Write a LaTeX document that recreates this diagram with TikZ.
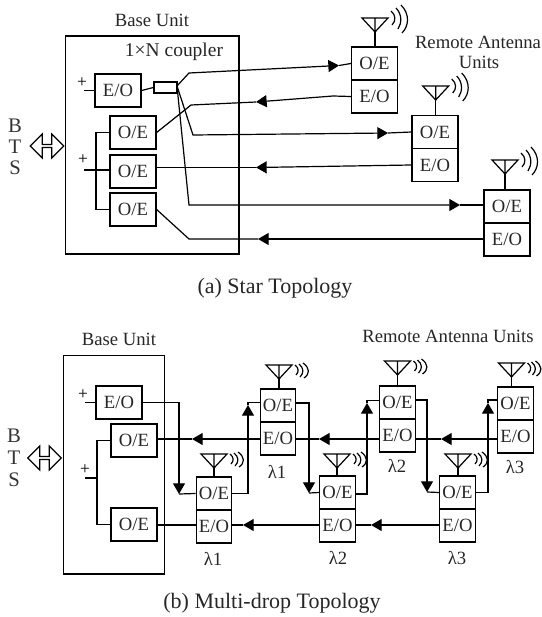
\documentclass[tikz,border=0pt]{standalone}
\usepackage{fontspec}
\setmainfont{Liberation Serif}
\usetikzlibrary{arrows.meta,shapes.arrows}
\tikzset{
  x=0.75pt,y=-0.75pt,
  wire/.style={line width=0.9pt,line join=miter},
  tipped/.style={wire,-{Triangle[length=8pt,width=9pt]}},
  unitbox/.style={draw,line width=0.95pt,inner sep=0pt,text=black!85,font=\fontsize{14}{15}\selectfont},
  bigbox/.style={unitbox,minimum width=34.5pt,minimum height=24.75pt},
  rabox/.style={unitbox,minimum width=26.5pt,minimum height=24.75pt},
  frame/.style={draw,line width=0.9pt,inner sep=0pt},
  txt/.style={inner sep=0pt,font=\fontsize{14}{16}\selectfont,text=black!85},
  captext/.style={inner sep=0pt,font=\fontsize{16.5}{18}\selectfont,text=black!85},
  letter/.style={inner sep=0pt,font=\fontsize{15.5}{16}\selectfont,text=black!80},
  sym/.style={inner sep=0pt,font=\fontsize{13}{13}\selectfont},
  bts/.style={draw,line width=0.9pt,double arrow,minimum height=25pt,minimum width=18pt,
     double arrow head extend=3pt,double arrow head indent=0pt,inner sep=0pt,fill=white},
  antA/.pic={
    \draw[wire] (-13,-14) -- (13,-14) -- (0,0) -- cycle (0,-14) -- (0,0);
    \draw[wire] (16,-21) .. controls (21,-17) and (21,-11) .. (17,-7);
    \draw[wire] (21,-24) .. controls (27,-18) and (27,-9) .. (23,-3);
    \draw[wire] (26,-27) .. controls (35,-18) and (34,-6) .. (27,1);
  },
  antB/.pic={
    \draw[wire] (-13,-14) -- (13,-14) -- (0,0) -- cycle (0,-14) -- (0,0);
    \draw[wire] (16,-14) .. controls (20,-11) and (20,-7) .. (17,-4);
    \draw[wire] (20,-15) .. controls (25,-11) and (25,-6) .. (21,-2);
    \draw[wire] (24,-16) .. controls (31,-11) and (31,-5) .. (25,-1);
  }
}
% name, box x, divider y, antenna x, apex y, box style, antenna pic
\newcommand{\rau}[7]{%
  \node[#6] (#1oe) at (#2,#3-16.5) {O/E};
  \node[#6] (#1eo) at (#2,#3+16.5) {E/O};
  \coordinate (#1ap) at (#4,#5);
  \pic at (#1ap) {#7};
  \draw[wire] (#1ap) -- (#1ap |- #1oe.north);
}
\begin{document}
\begin{tikzpicture}
\useasboundingbox (0,0) rectangle (542,617);

% ---------- (a) star
\node[frame,minimum width=130pt,minimum height=163.5pt] (baseA) at (152.25,145) {};
\node[txt] (baseAl) at (152,20) {Base Unit};
\node[txt,font=\fontsize{14.6}{16}\selectfont] (coupl) at (174,52) {1×N coupler};
\node[txt] (remA1) at (478,42) {Remote Antenna};
\node[txt] (remA2) at (479,62) {Units};
\node[captext] (capA) at (275,288) {(a) Star Topology};
\node[letter] (b1) at (15,126) {B};
\node[letter] (t1) at (15,147) {T};
\node[letter] (s1) at (15,168) {S};
\node[bts] (btsA) at (47,146) {};

\node[bigbox] (eoA) at (118,90.5) {E/O};
\node[bigbox] (oeA1) at (133,132.5) {O/E};
\node[bigbox] (oeA2) at (133,171.5) {O/E};
\node[bigbox] (oeA3) at (133,209.5) {O/E};
\node[draw,line width=1.3pt,minimum width=17pt,minimum height=8pt,inner sep=0pt] (coup) at (165.5,87.5) {};
\node[sym] (pA1) at (82,83) {+};
\node[sym] (pA2) at (83,160) {+};
\coordinate (mA1) at (84,90.5);
\coordinate (mA2) at (84,170);
\coordinate (busA) at (96,170);
\coordinate (cpA) at (177,86);

\draw[wire] (mA1) -- (eoA.west);
\draw[wire] (eoA.east) -- (coup.west);
\draw[wire] (mA2) -- (oeA2.west |- mA2);
\draw[wire] (oeA1.west) -| (busA) |- (oeA3.west);

\rau{ra}{374.5}{80}{375}{32}{bigbox}{antA}
\rau{rb}{435}{148.5}{435.7}{100}{bigbox}{antA}
\rau{rc}{507}{223}{505}{174}{bigbox}{antA}

\coordinate (tA1) at (339,65.5);
\coordinate (tA2) at (256,102);
\coordinate (tA3) at (388,133);
\coordinate (tA4) at (256,167.5);
\coordinate (tA5) at (460,205);
\coordinate (tA6) at (258,239);

\draw[tipped] (cpA) -- (189,73) -- (tA1);
\draw[wire] (tA1) -- (raoe.west);
\draw[tipped] (raeo.west) -- (333,96) -- (tA2);
\draw[wire] (tA2) -- (191,105) -- (oeA1.east);
\draw[tipped] (cpA) -- (193,135) -- (tA3);
\draw[wire] (tA3) -- (rboe.west);
\draw[tipped] (rbeo.west) -- (tA4);
\draw[wire] (tA4) -- (oeA2.east |- tA4);
\draw[tipped] (cpA) -- (189,205) -- (tA5);
\draw[wire] (tA5) -- (rcoe.west |- tA5);
\draw[tipped] (rceo.west |- tA6) -- (tA6);
\draw[wire] (tA6) -- (189,239) -- (oeA3.east);

% ---------- (b) multi-drop
\node[frame,minimum width=76pt,minimum height=164pt] (baseB) at (114,464.75) {};
\node[txt] (baseBl) at (119,339) {Base Unit};
\node[txt] (remB) at (448,336) {Remote Antenna Units};
\node[captext] (capB) at (272,603) {(b) Multi-drop Topology};
\node[letter] (b2) at (14,436) {B};
\node[letter] (t2) at (14,458) {T};
\node[letter] (s2) at (14,480) {S};
\node[bts] (btsB) at (44.5,458) {};

\node[bigbox] (eoB) at (119,402.5) {E/O};
\node[bigbox] (oeB1) at (134,440.5) {O/E};
\node[bigbox] (oeB2) at (134,524.5) {O/E};
\node[sym] (pB1) at (83,395) {+};
\node[sym] (pB2) at (85,470) {+};
\coordinate (mB1) at (85,402.5);
\coordinate (mB2) at (85,478);
\coordinate (busB) at (97,478);
\draw[wire] (mB1) -- (eoB.west);
\draw[wire] (mB2) -- (busB);
\draw[wire] (oeB1.west) -| (busB) |- (oeB2.west);

\rau{la}{214}{510}{214}{468}{rabox}{antB}
\rau{lb}{278}{422}{279}{379}{rabox}{antB}
\rau{lc}{337.5}{509}{337}{468}{rabox}{antB}
\rau{ld}{397.5}{419}{397.5}{375}{rabox}{antB}
\rau{le}{457.5}{509}{458}{468}{rabox}{antB}
\rau{lf}{515.5}{420}{511.5}{377}{rabox}{antB}

\node[txt] (l1) at (213,559) {λ1};
\node[txt] (l2) at (277,472) {λ1};
\node[txt] (l3) at (338,558) {λ2};
\node[txt] (l4) at (397,466) {λ2};
\node[txt] (l5) at (457,558) {λ3};
\node[txt] (l6) at (515,467) {λ3};

% forward chain
\coordinate (tB1) at (179,494);
\coordinate (tB2) at (248,405);
\coordinate (tB3) at (309,493);
\coordinate (tB4) at (367,403);
\coordinate (tB5) at (427,492);
\coordinate (tB6) at (488,403);
\draw[tipped] (eoB.east) -- (179,402.5) -- (tB1);
\draw[wire] (tB1) -- (laoe.west);
\draw[tipped] (laoe.east) -- (248,493.5) -- (tB2);
\draw[wire] (tB2) |- (lboe.west |- 0,402.5);
\draw[tipped] (lboe.east |- 0,403) -- (309,403) -- (tB3);
\draw[wire] (tB3) -- (lcoe.west);
\draw[tipped] (lcoe.east |- 0,494) -- (367,494) -- (tB4);
\draw[wire] (tB4) |- (ldoe.west |- 0,400.5);
\draw[tipped] (ldoe.east |- 0,400) -- (427,400) -- (tB5);
\draw[wire] (tB5) -- (leoe.west);
\draw[tipped] (leoe.east) -- (488,492.5) -- (tB6);
\draw[wire] (tB6) |- (lfoe.west |- 0,400);

% return lines
\coordinate (rB1) at (441,439);
\coordinate (rB2) at (319,439);
\coordinate (rB3) at (192,439);
\coordinate (rB4) at (371,525);
\coordinate (rB5) at (243,525);
\draw[tipped] (lfeo.west |- rB1) -- (rB1);
\draw[wire] (rB1) -- (ldeo.east |- rB1);
\draw[tipped] (ldeo.west |- rB2) -- (rB2);
\draw[wire] (rB2) -- (lbeo.east |- rB2);
\draw[tipped] (lbeo.west |- rB3) -- (rB3);
\draw[wire] (rB3) -- (oeB1.east |- rB3);
\draw[tipped] (leeo.west |- rB4) -- (rB4);
\draw[wire] (rB4) -- (lceo.east |- rB4);
\draw[tipped] (lceo.west |- rB5) -- (rB5);
\draw[wire] (rB5) -- (laeo.east |- rB5);
\draw[wire] (laeo.west |- rB5) -- (oeB2.east |- rB5);
\end{tikzpicture}
\end{document}
